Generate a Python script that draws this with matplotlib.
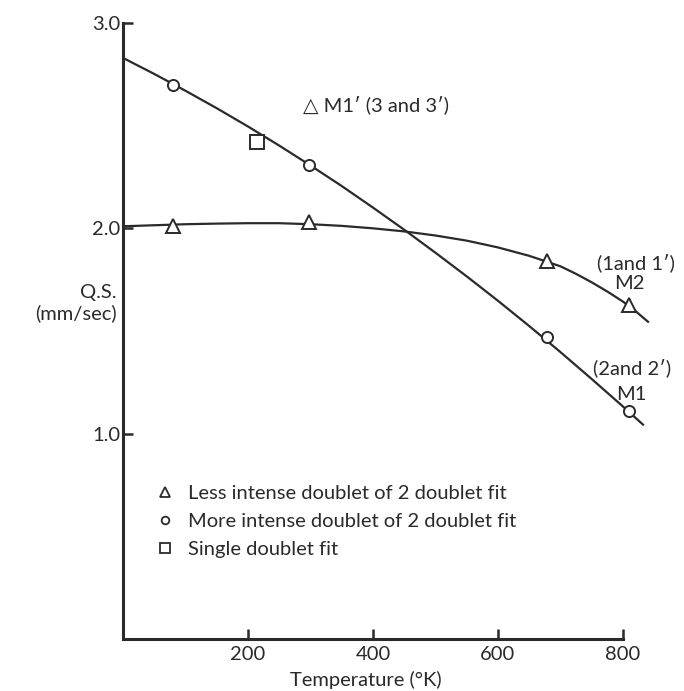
import matplotlib
matplotlib.use("Agg")
import matplotlib.pyplot as plt
from matplotlib.lines import Line2D

plt.rcParams['font.family'] = ['Lato', 'DejaVu Sans']

# measured points (temperature in K, Q.S. in mm/sec)
temp_pts = [80, 298, 678, 810]
qs_less = [2.01, 2.03, 1.84, 1.625]    # triangles, M2
qs_more = [2.70, 2.31, 1.47, 1.11]     # circles, M1
temp_single = [214]
qs_single = [2.42]                      # square

# hand drawn curves
m1_t = [0, 50, 100, 150, 200, 250, 300, 350, 400, 450, 500, 550, 600, 650, 700, 750, 800, 832]
m1_qs = [2.830, 2.752, 2.670, 2.585, 2.496, 2.403, 2.306, 2.206, 2.101, 1.993,
         1.881, 1.766, 1.647, 1.524, 1.397, 1.266, 1.132, 1.044]
m2_t = [0, 50, 100, 150, 200, 250, 300, 350, 400, 450, 500, 550, 600, 650, 700, 725, 750, 775, 800, 820, 840]
m2_qs = [2.010, 2.015, 2.020, 2.023, 2.025, 2.025, 2.020, 2.012, 2.000, 1.985,
         1.965, 1.940, 1.907, 1.866, 1.815, 1.778, 1.737, 1.692, 1.643, 1.597, 1.545]

xticks = [200, 400, 600, 800]
yticks = [1.0, 2.0, 3.0]

fs = 14.5
ink = "#2a2a2a"
fig = plt.figure(figsize=(6.84, 6.91), dpi=100)
ax = fig.add_axes([0.1798, 0.0753, 0.7767, 0.8914])

ax.plot(m1_t, m1_qs, color=ink, lw=1.6, zorder=2)
ax.plot(m2_t, m2_qs, color=ink, lw=1.6, zorder=2)
ax.plot(temp_pts, qs_more, "o", ms=8, mfc="white", mec=ink, mew=1.4, zorder=3)
ax.plot(temp_pts, qs_less, "^", ms=9.5, mfc="white", mec=ink, mew=1.4, zorder=3)
ax.plot(temp_single, qs_single, "s", ms=10, mfc="white", mec=ink, mew=1.4, zorder=3)

ax.set_xlim(0, 850)
ax.set_ylim(0, 3.0)
ax.spines["top"].set_visible(False)
ax.spines["right"].set_visible(False)
ax.spines["bottom"].set_bounds(0, 800)
for s in ["left", "bottom"]:
    ax.spines[s].set_linewidth(2.2)
    ax.spines[s].set_color(ink)
ax.set_xticks(xticks)
ax.set_xticklabels([str(t) for t in xticks])
ax.set_yticks(yticks)
ax.set_yticklabels(["%.1f" % t for t in yticks])
ax.tick_params(direction="in", length=7, width=1.8, color=ink,
               labelsize=fs, labelcolor=ink)
ax.tick_params(axis="y", pad=2)
ax.tick_params(axis="x", pad=5)

# annotations
ax.text(288, 2.60, "\u25b3 M1\u2032 (3 and 3\u2032)", fontsize=fs, color=ink,
        ha="left", va="center")
ax.text(758, 1.83, "(1and 1\u2032)", fontsize=fs, color=ink, ha="left", va="center")
ax.text(811, 1.73, "M2", fontsize=fs, color=ink, ha="center", va="center")
ax.text(752, 1.32, "(2and 2\u2032)", fontsize=fs, color=ink, ha="left", va="center")
ax.text(814, 1.19, "M1", fontsize=fs, color=ink, ha="center", va="center")

fig.text(0.171, 0.5615, "Q.S.\n(mm/sec)", fontsize=fs, color=ink,
         ha="right", va="center", multialignment="right")
fig.text(0.535, 0.016, "Temperature (\u00b0K)", fontsize=fs, color=ink,
         ha="center", va="center")

handles = [
    Line2D([], [], ls="none", marker="^", ms=7, mfc="white", mec=ink, mew=1.3),
    Line2D([], [], ls="none", marker="o", ms=5.5, mfc="white", mec=ink, mew=1.3),
    Line2D([], [], ls="none", marker="s", ms=7, mfc="white", mec=ink, mew=1.3),
]
labels = ["Less intense doublet of 2 doublet fit",
          "More intense doublet of 2 doublet fit",
          "Single doublet fit"]
leg = fig.legend(handles, labels, loc="upper left", bbox_to_anchor=(0.229, 0.298),
                 frameon=False, fontsize=fs, handlelength=0.8, handletextpad=0.75,
                 labelspacing=0.53, borderpad=0, borderaxespad=0)
for t in leg.get_texts():
    t.set_color(ink)

fig.savefig("out.png", dpi=100)
